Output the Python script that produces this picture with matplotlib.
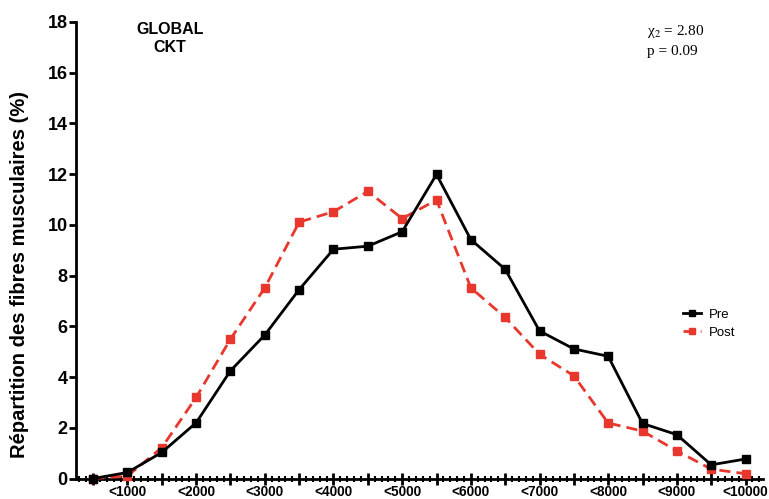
import matplotlib
matplotlib.use("Agg")
import matplotlib.pyplot as plt
from matplotlib.ticker import MultipleLocator, FixedLocator

plt.rcParams['font.family'] = ['Liberation Sans', 'DejaVu Sans']
plt.rcParams['mathtext.fontset'] = 'stix'

x_vals = [500, 1000, 1500, 2000, 2500, 3000, 3500, 4000, 4500, 5000,
          5500, 6000, 6500, 7000, 7500, 8000, 8500, 9000, 9500, 10000]
pre = [0.0, 0.24, 1.03, 2.2, 4.25, 5.66, 7.45, 9.04, 9.16, 9.73,
       11.99, 9.42, 8.25, 5.82, 5.11, 4.82, 2.17, 1.73, 0.54, 0.77]
post = [0.0, 0.1, 1.22, 3.2, 5.5, 7.52, 10.11, 10.52, 11.32, 10.25,
        10.98, 7.52, 6.35, 4.9, 4.05, 2.19, 1.87, 1.09, 0.37, 0.19]
tick_labels = ['<1000', '<2000', '<3000', '<4000', '<5000', '<6000',
               '<7000', '<8000', '<9000', '<10000']
tick_pos = [1000, 2000, 3000, 4000, 5000, 6000, 7000, 8000, 9000, 10000]

fig = plt.figure(figsize=(7.69, 4.99), dpi=100)
ax = fig.add_axes([0.0988, 0.041, 0.893, 0.915])

red = '#e8372c'
ax.plot(x_vals, pre, color='black', lw=2.0, marker='s', markersize=5.5,
        label='Pre', zorder=4, clip_on=False)
ax.plot(x_vals, post, color=red, lw=2.0, ls=(0, (4, 2.2)), marker='s',
        markersize=5.5, label='Post', zorder=3, clip_on=False)

ax.set_xlim(250, 10250)
ax.set_ylim(0, 18)
ax.spines['top'].set_visible(False)
ax.spines['right'].set_visible(False)
for s in ['left', 'bottom']:
    ax.spines[s].set_linewidth(2.0)

ax.yaxis.set_major_locator(MultipleLocator(2))
ax.tick_params(axis='y', width=2, length=5, labelsize=13, pad=1)
for lab in ax.get_yticklabels():
    lab.set_fontweight('bold')

ax.xaxis.set_major_locator(FixedLocator(list(range(500, 10001, 500))))
ax.xaxis.set_minor_locator(FixedLocator([v for v in range(300, 10201, 100) if v % 500 != 0]))
ax.set_xticklabels(['' if v % 1000 else tick_labels[tick_pos.index(v)]
                    for v in range(500, 10001, 500)])
ax.tick_params(axis='x', which='major', direction='inout', width=2, length=9,
               labelsize=9.8, pad=0.5)
ax.tick_params(axis='x', which='minor', direction='inout', width=1.5, length=5)
for lab in ax.get_xticklabels():
    lab.set_fontweight('bold')

ax.set_ylabel('Répartition des fibres musculaires (%)', fontsize=14.5,
              fontweight='bold')
ax.yaxis.set_label_coords(-0.068, 0.447)

fig.text(170 / 769, 1 - 30 / 499, 'GLOBAL', ha='center', va='center',
         fontsize=11.5, fontweight='bold')
fig.text(170 / 769, 1 - 47 / 499, 'CKT', ha='center', va='center',
         fontsize=11.5, fontweight='bold')

fig.text(647 / 769, 1 - 31 / 499, r'χ$_2$ = 2.80', ha='left', va='center',
         fontsize=11, family='Liberation Serif')
fig.text(647 / 769, 1 - 51 / 499, 'p = 0.09', ha='left', va='center',
         fontsize=11, family='Liberation Serif')

ax.legend(loc='upper left', bbox_to_anchor=(676 / 769, 1 - 302 / 499),
          bbox_transform=fig.transFigure, frameon=False, fontsize=9.5,
          handlelength=1.4, handletextpad=0.6, labelspacing=0.45,
          borderpad=0, markerscale=0.8)

fig.savefig('out.png', dpi=100)
